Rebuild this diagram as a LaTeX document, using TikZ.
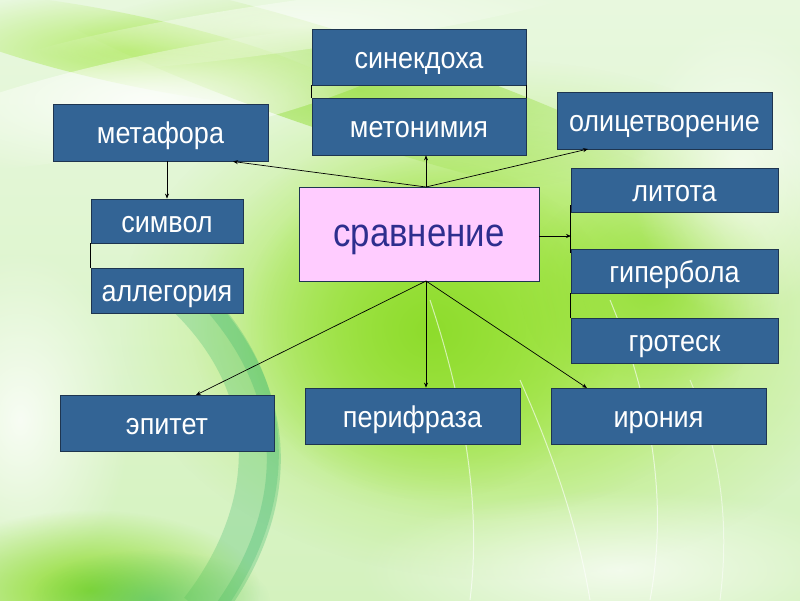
\documentclass[tikz,border=0pt]{standalone}
\usepackage{fontspec}
\setmainfont{Liberation Sans}
\newfontfamily\boxfont[FakeStretch=0.9]{Liberation Sans}
\newfontfamily\bigfont[FakeStretch=0.87]{Liberation Sans}
\usetikzlibrary{arrows.meta,calc,fadings}
\definecolor{boxblue}{HTML}{336495}
\definecolor{boxedge}{HTML}{1E3550}
\definecolor{pinkfill}{HTML}{FFCCFF}
\definecolor{sravtext}{HTML}{2E2E8E}
\definecolor{bgTop}{HTML}{E8F8DE}
\definecolor{bgBot}{HTML}{D4F2BE}
\definecolor{glow}{HTML}{A8E84E}
\definecolor{glowB}{HTML}{8EDC2C}
\definecolor{teal}{HTML}{3DB86E}
\tikzfading[name=softglow, inner color=transparent!0, outer color=transparent!100]
\tikzset{
  box/.style={draw=boxedge, line width=0.8pt, fill=boxblue, text=white,
    font=\boxfont\fontsize{30}{32}\selectfont, inner sep=0pt, anchor=center,
    text height=24pt, text depth=2pt},
  bigbox/.style={draw=boxedge, line width=0.8pt, fill=pinkfill, text=sravtext,
    font=\bigfont\fontsize{40}{44}\selectfont, inner sep=0pt, anchor=center,
    text height=30pt, text depth=5pt},
  conn/.style={draw=black, line width=0.7pt, -{Stealth[length=5pt,width=4pt]}},
  plain/.style={draw=black, line width=0.7pt},
  soft/.style={path fading=softglow, fit fading=true},
}
\begin{document}
\begin{tikzpicture}[x=1pt,y=-1pt]
\useasboundingbox (0,0) rectangle (800,600);
% background
\shade[top color=bgTop, bottom color=bgBot] (0,0) rectangle (800,600);
\begin{scope}
\clip (0,0) rectangle (800,600);
\fill[glow, soft] (500,320) ellipse (380 and 260);
\fill[glow, soft] (470,320) ellipse (280 and 200);
\fill[glowB, soft] (430,330) ellipse (190 and 170);
\fill[glowB, soft, opacity=0.7] (650,290) ellipse (130 and 110);
\fill[glowB, soft, opacity=0.7, rotate around={-18:(360,90)}] (360,90) ellipse (360 and 50);
\fill[glow, soft, opacity=0.8, rotate around={-12:(130,50)}] (130,50) ellipse (220 and 35);
\fill[white, soft, opacity=0.85, rotate around={12:(150,100)}] (150,100) ellipse (280 and 45);
\fill[white, soft, opacity=0.6, rotate around={8:(300,25)}] (300,25) ellipse (300 and 25);
\fill[white, soft, opacity=0.65] (740,170) ellipse (110 and 150);
\fill[white, soft, opacity=0.7] (620,570) ellipse (260 and 80);
\fill[white, soft, opacity=0.8] (20,420) ellipse (110 and 170);
\draw[teal, opacity=0.28, line width=40pt] (190,300) .. controls (290,400) and (270,520) .. (200,610);
\draw[teal, opacity=0.3, line width=14pt] (215,310) .. controls (300,410) and (285,520) .. (220,610);
\fill[glowB, soft] (90,590) ellipse (170 and 80);
\fill[teal, soft, opacity=0.5] (150,600) ellipse (120 and 50);
\draw[white, opacity=0.6, line width=1pt] (430,300) .. controls (470,420) and (480,520) .. (470,600);
\draw[white, opacity=0.6, line width=1pt] (610,300) .. controls (660,420) and (665,520) .. (650,600);
\draw[white, opacity=0.6, line width=1pt] (520,380) .. controls (560,470) and (580,540) .. (590,600);
\draw[white, opacity=0.5, line width=1pt] (690,380) .. controls (720,450) and (730,520) .. (720,600);
\end{scope}
% nodes
\node[box, minimum width=214pt, minimum height=56pt] (sin) at (419,57) {синекдоха};
\node[box, minimum width=214pt, minimum height=57pt] (meton) at (419,126.5) {метонимия};
\node[box, minimum width=215pt, minimum height=57pt] (metaf) at (160.5,132.5) {метафора};
\node[box, minimum width=152pt, minimum height=44pt] (simv) at (167,221) {символ};
\node[box, minimum width=152pt, minimum height=45pt] (alleg) at (167,290.5) {аллегория};
\node[bigbox, minimum width=240pt, minimum height=94pt] (srav) at (419,234) {сравнение};
\node[box, minimum width=215pt, minimum height=57pt] (olic) at (664.5,120.5) {олицетворение};
\node[box, minimum width=207pt, minimum height=44pt] (lit) at (674.5,190) {литота};
\node[box, minimum width=207pt, minimum height=44pt] (giper) at (674.5,271) {гипербола};
\node[box, minimum width=207pt, minimum height=45pt] (grot) at (674.5,340.5) {гротеск};
\node[box, minimum width=214pt, minimum height=56pt] (epit) at (167,423) {эпитет};
\node[box, minimum width=215pt, minimum height=56pt] (perif) at (412.5,416) {перифраза};
\node[box, minimum width=215pt, minimum height=56pt] (iron) at (658.5,416) {ирония};
% connection points
\coordinate (top) at (426,187);
\coordinate (bot) at (426,281);
\coordinate (metafIn) at (233,161.5);
\coordinate (olicIn) at (588,149);
\coordinate (epitIn) at (196,395);
\coordinate (ironIn) at (587,388);
\coordinate (rightIn) at (571,236);
% connectors
\draw[conn] (top) -- (metafIn);
\draw[conn] (top) -- (top |- meton.south);
\draw[conn] (top) -- (olicIn);
\draw[conn] (simv.north |- metaf.south) -- (simv.north);
\draw[conn] (srav.east |- rightIn) -- (rightIn);
\draw[conn] (bot) -- (epitIn);
\draw[conn] (bot) -- (bot |- perif.north);
\draw[conn] (bot) -- (ironIn);
% side links
\draw[plain] (sin.south west) -- (meton.north west);
\draw[plain] (sin.south east) -- (meton.north east);
\draw[plain] (simv.south west) -- (alleg.north west);
\draw[plain] ($(lit.south west)+(0,-7)$) -- ($(giper.north west)+(0,4)$);
\draw[plain] (giper.south west) -- (grot.north west);
\end{tikzpicture}
\end{document}
